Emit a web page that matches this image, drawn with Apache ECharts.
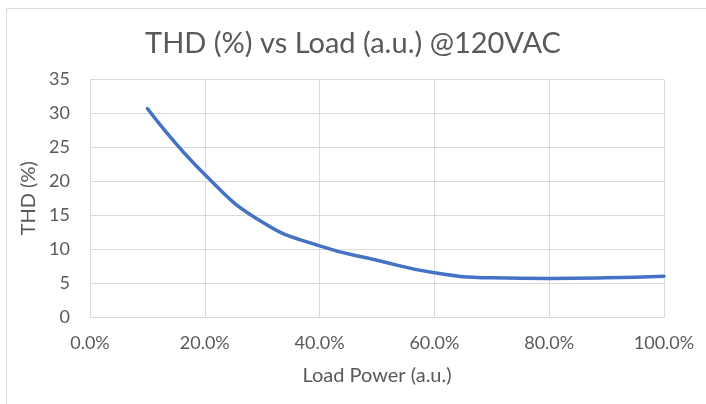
<!DOCTYPE html>
<html>
<head>
<meta charset="utf-8">
<script src="https://cdn.jsdelivr.net/npm/echarts@6/dist/echarts.min.js"></script>
<style>html,body{margin:0;padding:0;background:#fff;}#c{width:706px;height:404px;}</style>
</head>
<body>
<div id="c"></div>
<script>
const loadPower = [0.1, 0.2, 0.3, 0.4, 0.5, 0.6, 0.7, 0.8, 0.9, 1.0];
const thdValues = [30.7, 21.0, 14.0, 10.5, 8.4, 6.55, 5.8, 5.7, 5.8, 6.05];
const titleText = 'THD (%) vs Load (a.u.) @120VAC';
const xAxisName = 'Load Power (a.u.)';
const yAxisName = 'THD (%)';

const FONT = 'Lato';
const TXT = '#595959';
const GRID = '#d9d9d9';

const chart = echarts.init(document.getElementById('c'));
chart.setOption({
  animation: false,
  backgroundColor: '#fff',
  graphic: [{
    type: 'rect', left: 4, top: 6, z: -1,
    shape: { width: 800, height: 500 },
    style: { fill: 'none', stroke: GRID, lineWidth: 1 }
  }],
  title: {
    text: titleText, left: 'center', top: 24,
    textStyle: { fontFamily: FONT, fontSize: 29, fontWeight: 'normal', color: TXT }
  },
  grid: { left: 90, right: 42, top: 79.3, bottom: 86.7, containLabel: false },
  xAxis: {
    type: 'value', min: 0, max: 1, interval: 0.2,
    name: xAxisName, nameLocation: 'middle', nameGap: 48,
    nameTextStyle: { fontFamily: FONT, fontSize: 20, color: TXT },
    axisLine: { show: true, lineStyle: { color: GRID, width: 1 } },
    axisTick: { show: false },
    splitLine: { show: true, lineStyle: { color: GRID, width: 1 } },
    axisLabel: {
      fontFamily: FONT, fontSize: 18, color: TXT, margin: 17,
      formatter: v => (v * 100).toFixed(1) + '%'
    }
  },
  yAxis: {
    type: 'value', min: 0, max: 35, interval: 5,
    name: yAxisName, nameLocation: 'middle', nameGap: 50, nameRotate: 90,
    nameTextStyle: { fontFamily: FONT, fontSize: 20, color: TXT },
    axisLine: { show: false },
    axisTick: { show: false },
    splitLine: { show: true, lineStyle: { color: GRID, width: 1 } },
    axisLabel: { fontFamily: FONT, fontSize: 18, color: TXT, margin: 20 }
  },
  series: [{
    type: 'line',
    data: loadPower.map((x, i) => [x, thdValues[i]]),
    smooth: 0.5,
    showSymbol: false,
    lineStyle: { color: '#4472c4', width: 3.5, cap: 'round' },
    itemStyle: { color: '#4472c4' }
  }]
});
</script>
</body>
</html>
